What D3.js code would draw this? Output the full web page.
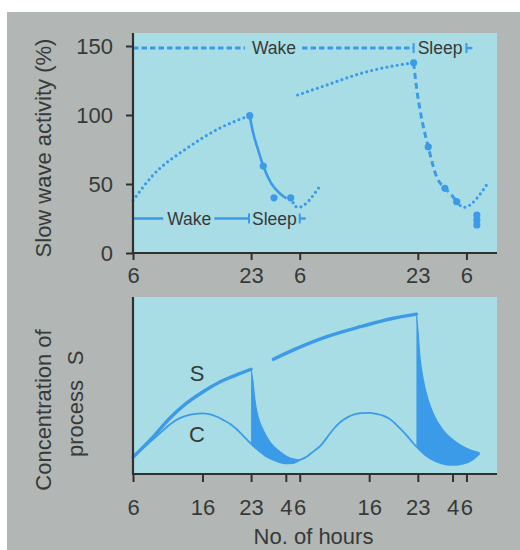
<!DOCTYPE html>
<html><head><meta charset="utf-8">
<script src="https://cdn.jsdelivr.net/npm/d3@7"></script>
<style>
html,body{margin:0;padding:0;background:#fff;}
svg{display:block;}
text{font-family:"Liberation Sans",Arial,Helvetica,sans-serif;fill:#363a38;}
</style></head><body>
<svg id="chart" width="520" height="550"></svg>
<script>
// ---------------- data ----------------
// hours counted from 06:00 on day 1
const topTickHours = [0, 17, 24, 41, 48];
const topTickLabels = ["6", "23", "6", "23", "6"];
const bottomTickHours = [0, 10, 17, 22, 24, 34, 41, 46, 48];
const bottomTickLabels = ["6", "16", "23", "4", "6", "16", "23", "4", "6"];
const swaTicks = [0, 50, 100, 150];

// slow wave activity (%)
const swaWake1 = [[0,38],[2.9,56.5],[7.8,76],[12.5,90.5],[16.8,99.5]];
const swaSleep1 = [[16.8,99.5],[17.3,87],[18,75],[18.75,63],[19.9,50.5],[21.1,43.3],[22.1,39.6]];
const swaTail1 = [[22.7,40],[23.7,33],[26.9,48.5]];
const swaWake2 = [[23.7,114.5],[27.9,121.7],[32.7,130],[37.4,135.5],[40.4,137.8]];
const swaRecovery = [[40.4,137.8],[40.8,120.5],[41.5,98.8],[42.5,77],[43.7,55.3],[44.9,46.9],[45.6,43.5],[46.6,37.2]];
const swaTail2 = [[46.6,37.2],[47.6,33.1],[50.9,49.3]];
const swaDots = [[16.8,99.5],[18.75,63],[20.3,40],[22.7,40],[40.4,137.8],[42.5,77],[44.9,46.9],[46.6,37.2],[49.5,27.5],[49.5,24],[49.5,20.3]];

// schedule bars
const scheduleNormal = {level: 25, wakeLabelAt: 8.1, sleep: [16.7, 24]};
const scheduleDeprived = {level: 148.5, wakeLabelAt: 20.3, sleep: [40.4, 48]};

// process S and process C (arbitrary units)
const procS1 = [[0,9.5],[2.9,21],[5.3,31.5],[7.7,40],[10.1,46.5],[12.5,52],[14.9,56],[17,59.2]];
const procSDecay1 = [[17,59.2],[17.3,51.2],[17.55,41.8],[18,32.4],[18.75,24.9],[19.7,18.2],[21.15,12.6],[22.6,9],[24,7.9]];
const procS2 = [[20.2,64.8],[23.1,70.1],[27.9,77.6],[32.7,83.2],[37.5,88],[40.8,90.3]];
const procSDecay2 = [[40.8,90.3],[41.05,79.5],[41.3,66.3],[41.8,53.1],[42.5,41.8],[43.2,34.3],[44.6,24.9],[46.1,19.2],[48,14.5],[49.9,12]];
const procC = [[0,9.5],[1,13],[2,16.5],[3,20],[4,23.5],[5,27],[6,30],[7,32],[8,33.3],[9,34],[10,34.3],[11,33.8],[12,32.5],[13,30.5],[14,28.3],[15,25],[16,21],[17,17],[18,13.5],[19,10.5],[20,8.3],[21,6.8],[22,6],[23,6.1],[24,7.9],[25,9.8],[26,12.8],[27,16],[28,21],[29,26],[30,29.8],[31,32.3],[32,33.8],[33,34.4],[34,34.5],[35,34],[36,33],[37,31],[38,27.5],[39,23.5],[40,19],[40.8,15.4],[42,11],[43,8.3],[44,6.5],[45,5.4],[46,5.1],[47,5.4],[48,6.4],[49,8.5],[49.9,11.7]];

// ---------------- drawing ----------------
const BLUE = "#3b9be9", LIGHT = "#a9dde6", GREY = "#b2b6b4", AXIS = "#2f302f", TXT = "#363a38";
const svg = d3.select("#chart");
svg.append("rect").attr("x",7).attr("y",12).attr("width",513).attr("height",538).attr("fill",GREY);

const x = d3.scaleLinear().domain([0, 52.4]).range([133, 497]);
const yTop = d3.scaleLinear().domain([0, 150]).range([253, 46]);
const yBot = d3.scaleLinear().domain([0, 100]).range([474, 297]);
const topPlotTop = 33, botPlotTop = 297;

// plot backgrounds
svg.append("rect").attr("x",x(0)).attr("y",topPlotTop).attr("width",x.range()[1]-x(0)).attr("height",yTop(0)-topPlotTop).attr("fill",LIGHT);
svg.append("rect").attr("x",x(0)).attr("y",botPlotTop).attr("width",x.range()[1]-x(0)).attr("height",yBot(0)-botPlotTop).attr("fill",LIGHT);

// ---- top chart ----
const lineTop = d3.line().x(d=>x(d[0])).y(d=>yTop(d[1])).curve(d3.curveMonotoneX);
const gTop = svg.append("g");
function dotted(g, data, line){ return g.append("path").attr("d",line(data)).attr("fill","none").attr("stroke",BLUE).attr("stroke-width",3.2).attr("stroke-linecap","round").attr("stroke-dasharray","0 5.2"); }
dotted(gTop, swaWake1, lineTop);
gTop.append("path").attr("d",lineTop(swaSleep1)).attr("fill","none").attr("stroke",BLUE).attr("stroke-width",2.6);
dotted(gTop, swaTail1, lineTop);
dotted(gTop, swaWake2, lineTop);
gTop.append("path").attr("d",lineTop(swaRecovery)).attr("fill","none").attr("stroke",BLUE).attr("stroke-width",3).attr("stroke-dasharray","6 4");
dotted(gTop, swaTail2, lineTop);
gTop.selectAll("circle.swa").data(swaDots).join("circle").attr("class","swa")
  .attr("cx",d=>x(d[0])).attr("cy",d=>yTop(d[1])).attr("r",3.6).attr("fill",BLUE);

// schedule bars
function scheduleBar(s, dashed, gapL, gapR){
  const yy = yTop(s.level);
  const g = svg.append("g");
  const fs = 17.5;
  const wake = g.append("text").attr("x",x(s.wakeLabelAt)).attr("y",yy).attr("text-anchor","middle")
    .attr("dominant-baseline","central").attr("font-size",fs).text("Wake");
  const ww = wake.node().getComputedTextLength();
  const seg = (a,b)=>{ const l=g.append("line").attr("x1",a).attr("x2",b).attr("y1",yy).attr("y2",yy)
      .attr("stroke",BLUE).attr("stroke-width",dashed?3:2.6); if(dashed) l.attr("stroke-dasharray","5.5 3"); };
  seg(x(0), x(s.wakeLabelAt)-ww/2-gapL);
  seg(x(s.wakeLabelAt)+ww/2+gapR, x(s.sleep[0]));
  const tick = xx => g.append("line").attr("x1",xx).attr("x2",xx).attr("y1",yy-5).attr("y2",yy+5).attr("stroke",BLUE).attr("stroke-width",2);
  tick(x(s.sleep[0])); tick(x(s.sleep[1]));
  g.append("line").attr("x1",x(s.sleep[1])).attr("x2",x(s.sleep[1])+6).attr("y1",yy).attr("y2",yy).attr("stroke",BLUE).attr("stroke-width",2.4);
  g.append("text").attr("x",(x(s.sleep[0])+x(s.sleep[1]))/2).attr("y",yy).attr("text-anchor","middle")
    .attr("dominant-baseline","central").attr("font-size",fs).text("Sleep");
}
scheduleBar(scheduleDeprived, true, 7, 6);
scheduleBar(scheduleNormal, false, 4, 3);

// top axes
function styleAxis(g){
  g.selectAll(".tick line").attr("stroke",AXIS).attr("stroke-width",2);
  g.selectAll(".tick text").attr("font-size",22).attr("fill",TXT).attr("font-family",'"Liberation Sans",Arial,sans-serif');
  g.select(".domain").remove();
}
svg.append("g").attr("transform",`translate(0,${yTop(0)})`)
  .call(d3.axisBottom(x).tickValues(topTickHours).tickFormat((d,i)=>topTickLabels[i]).tickSize(7).tickPadding(7))
  .call(styleAxis);
svg.append("g").attr("transform",`translate(${x(0)},0)`)
  .call(d3.axisLeft(yTop).tickValues(swaTicks).tickSize(7).tickPadding(13))
  .call(styleAxis);
svg.append("line").attr("x1",x(0)).attr("x2",x(0)).attr("y1",topPlotTop).attr("y2",yTop(0)+1).attr("stroke",AXIS).attr("stroke-width",2.2);
svg.append("line").attr("x1",x(0)-1).attr("x2",x.range()[1]).attr("y1",yTop(0)).attr("y2",yTop(0)).attr("stroke",AXIS).attr("stroke-width",2.2);

// ---- bottom chart ----
const lineBot = d3.line().x(d=>x(d[0])).y(d=>yBot(d[1])).curve(d3.curveMonotoneX);
const areaAboveC = d3.area().x(d=>x(d[0])).y0(botPlotTop).y1(d=>yBot(d[1])).curve(d3.curveMonotoneX);
const defs = svg.append("defs");
[procSDecay1, procSDecay2].forEach((dec,i)=>{
  const t0 = dec[0][0], t1 = dec[dec.length-1][0];
  defs.append("clipPath").attr("id","under"+i).append("path")
    .attr("d", lineBot(dec) + `L${x(t1)},${yBot(0)}L${x(t0)},${yBot(0)}Z`);
  svg.append("path").attr("d",areaAboveC(procC)).attr("fill",BLUE).attr("clip-path",`url(#under${i})`);
  svg.append("path").attr("d",lineBot(dec)).attr("fill","none").attr("stroke",BLUE).attr("stroke-width",1.2);
});
svg.append("path").attr("d",lineBot(procC)).attr("fill","none").attr("stroke",BLUE).attr("stroke-width",1.8);
svg.append("path").attr("d",lineBot(procS1)).attr("fill","none").attr("stroke",BLUE).attr("stroke-width",3.4).attr("stroke-linecap","round");
svg.append("path").attr("d",lineBot(procS2)).attr("fill","none").attr("stroke",BLUE).attr("stroke-width",3.4).attr("stroke-linecap","round");

svg.append("text").attr("x",197).attr("y",373).attr("text-anchor","middle").attr("dominant-baseline","central").attr("font-size",22).text("S");
svg.append("text").attr("x",197).attr("y",434).attr("text-anchor","middle").attr("dominant-baseline","central").attr("font-size",22).text("C");

svg.append("g").attr("transform",`translate(0,${yBot(0)})`)
  .call(d3.axisBottom(x).tickValues(bottomTickHours).tickFormat((d,i)=>bottomTickLabels[i]).tickSize(8).tickPadding(17))
  .call(styleAxis);
svg.append("line").attr("x1",x(0)).attr("x2",x(0)).attr("y1",botPlotTop).attr("y2",yBot(0)+1).attr("stroke",AXIS).attr("stroke-width",2.2);
svg.append("line").attr("x1",x(0)-1).attr("x2",x.range()[1]).attr("y1",yBot(0)).attr("y2",yBot(0)).attr("stroke",AXIS).attr("stroke-width",2.2);

// axis titles
const title = (tx,ty,txt,anchor)=>svg.append("text").attr("transform",`translate(${tx},${ty}) rotate(-90)`)
  .attr("text-anchor",anchor||"middle").attr("dominant-baseline","central").attr("font-size",22).text(txt);
title(43,148,"Slow wave activity (%)");
title(43,410,"Concentration of");
title(75,457,"process","start");
title(75,358,"S");
svg.append("text").attr("x",313.5).attr("y",536).attr("text-anchor","middle").attr("dominant-baseline","central").attr("font-size",22).text("No. of hours");
</script>
</body></html>
